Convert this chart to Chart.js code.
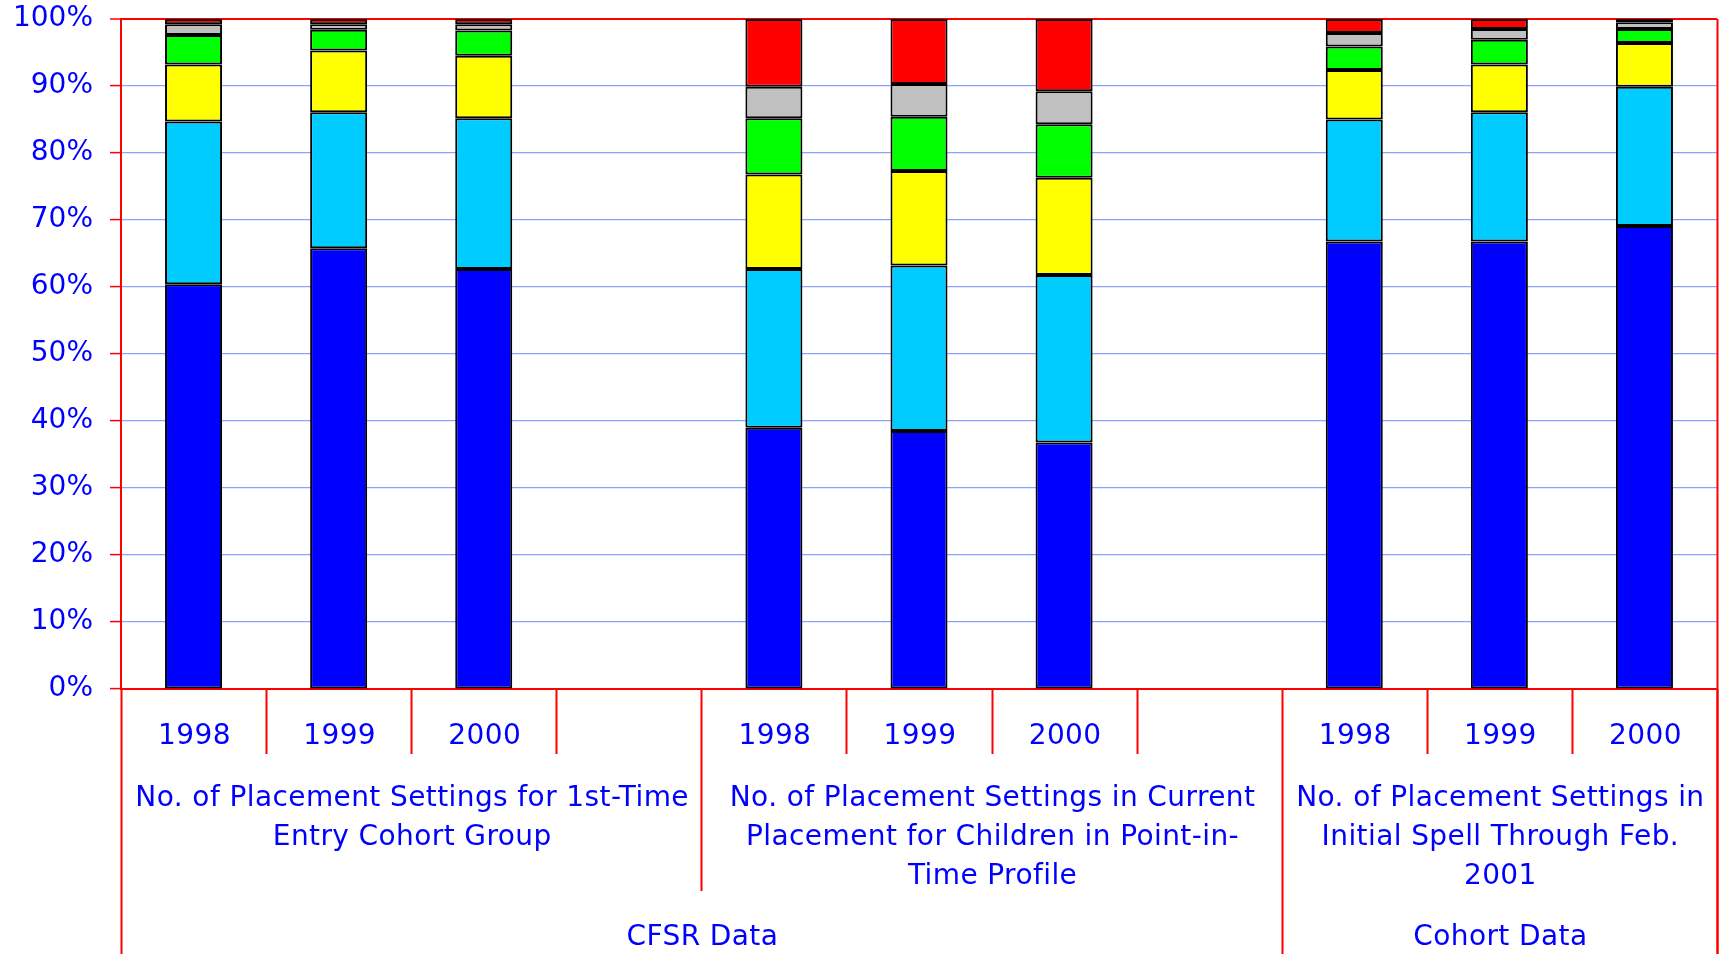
<!DOCTYPE html>
<html>
<head>
<meta charset="utf-8">
<script src="https://cdn.jsdelivr.net/npm/chart.js@4"></script>
<style>
  html, body { margin: 0; padding: 0; background: #fff; }
  canvas { display: block; }
</style>
</head>
<body>
<canvas id="placementChart" width="1725" height="954"></canvas>
<script>
// categories (empty slot separates the groups)
var years = ['1998', '1999', '2000', '', '1998', '1999', '2000', '', '1998', '1999', '2000'];

// group labels under the years
var groupLabels = [
    ['No. of Placement Settings for 1st-Time', 'Entry Cohort Group'],
    ['No. of Placement Settings in Current', 'Placement for Children in Point-in-', 'Time Profile'],
    ['No. of Placement Settings in', 'Initial Spell Through Feb.', '2001']
];
var groupSpans = [[0, 4], [4, 8], [8, 11]];

var sourceLabels = ['CFSR Data', 'Cohort Data'];
var sourceSpans = [[0, 8], [8, 11]];

// number of placement settings (percent of children)
var seriesNames = ['1', '2', '3', '4', '5', '6 or more'];
var onePlacement   = [60.4, 65.8, 62.7, null, 39.0, 38.5, 36.8, null, 66.8, 66.8, 69.1];
var twoPlacements  = [24.3, 20.3, 22.5, null, 23.7, 24.7, 25.0, null, 18.2, 19.3, 20.8];
var threePlacements = [8.5, 9.2, 9.3, null, 14.1, 14.1, 14.5, null, 7.4, 7.1, 6.5];
var fourPlacements = [4.4, 3.1, 3.8, null, 8.4, 8.1, 8.0, null, 3.5, 3.7, 2.1];
var fivePlacements = [1.6, 0.8, 0.9, null, 4.7, 4.9, 4.9, null, 2.0, 1.6, 1.0];
var sixPlusPlacements = [0.8, 0.8, 0.8, null, 10.1, 9.7, 10.8, null, 2.1, 1.5, 0.5];

var yTicks = [0, 10, 20, 30, 40, 50, 60, 70, 80, 90, 100];

var BLUE_TEXT = '#0000FF';
var RED_LINE = '#FF0000';

var seriesData = [onePlacement, twoPlacements, threePlacements, fourPlacements, fivePlacements, sixPlusPlacements];
var seriesColors = ['#0000FF', '#00CCFF', '#FFFF00', '#00FF00', '#C0C0C0', '#FF0000'];

// draws the multi-level category axis below the plot
var categoryLevels = {
    id: 'categoryLevels',
    afterDraw: function (chart) {
        var ctx = chart.ctx;
        var x = chart.scales.x;
        var top = chart.chartArea.bottom;
        var bottom = chart.height;
        var step = x.getPixelForValue(1) - x.getPixelForValue(0);
        var edge = function (i) { return x.getPixelForValue(i) - step / 2; };

        ctx.save();
        ctx.strokeStyle = RED_LINE;
        ctx.lineWidth = 2;

        // separator lines
        for (var i = 0; i <= years.length; i++) {
            var end = top + 65;
            groupSpans.forEach(function (s) { if (s[0] === i || s[1] === i) end = top + 202; });
            sourceSpans.forEach(function (s) { if (s[0] === i || s[1] === i) end = bottom; });
            var px = Math.round(edge(i)) + 0.5;
            ctx.beginPath();
            ctx.moveTo(px, top);
            ctx.lineTo(px, end);
            ctx.stroke();
        }
        // right edge of plot up to the top
        var rx = Math.round(edge(years.length)) + 0.5;
        ctx.beginPath();
        ctx.moveTo(rx, chart.chartArea.top);
        ctx.lineTo(rx, bottom);
        ctx.stroke();

        ctx.fillStyle = BLUE_TEXT;
        ctx.font = '28px "DejaVu Sans"';
        ctx.letterSpacing = '0.4px';
        ctx.textAlign = 'center';
        ctx.textBaseline = 'middle';

        years.forEach(function (y, i) {
            if (y) ctx.fillText(y, x.getPixelForValue(i) + 1, top + 48);
        });

        groupLabels.forEach(function (lines, g) {
            var cx = (edge(groupSpans[g][0]) + edge(groupSpans[g][1])) / 2 + 1;
            lines.forEach(function (line, k) {
                ctx.fillText(line, cx, top + 110 + k * 39);
            });
        });

        sourceLabels.forEach(function (lbl, g) {
            var cx = (edge(sourceSpans[g][0]) + edge(sourceSpans[g][1])) / 2 + 1;
            ctx.fillText(lbl, cx, top + 249);
        });
        ctx.restore();
        ctx.letterSpacing = '0px';
    }
};

var ctx = document.getElementById('placementChart').getContext('2d');

var placementChart = new Chart(ctx, {
    type: 'bar',
    data: {
        labels: years,
        datasets: seriesData.map(function (values, i) {
            return {
                label: seriesNames[i],
                data: values,
                backgroundColor: seriesColors[i],
                borderColor: '#000000',
                borderWidth: 2,
                borderSkipped: false,
                barPercentage: 0.393,
                categoryPercentage: 1
            };
        })
    },
    options: {
        responsive: false,
        animation: false,
        devicePixelRatio: 1,
        layout: { padding: { top: 19, right: 8, bottom: 0, left: 0 } },
        plugins: {
            legend: { display: false },
            tooltip: { enabled: false }
        },
        scales: {
            x: {
                stacked: true,
                grid: { display: false },
                border: { display: true, color: RED_LINE, width: 2 },
                ticks: { display: false },
                afterFit: function (scale) { scale.height = 265; }
            },
            y: {
                stacked: true,
                min: 0,
                max: 100,
                afterBuildTicks: function (scale) {
                    scale.ticks = yTicks.map(function (v) { return { value: v }; });
                },
                grid: {
                    color: function (c) {
                        return (c.tick && (c.tick.value === 100 || c.tick.value === 0)) ? RED_LINE : '#8CA2FF';
                    },
                    lineWidth: function (c) {
                        return (c.tick && c.tick.value === 100) ? 2 : 1.2;
                    },
                    tickColor: RED_LINE,
                    tickLength: 11,
                    tickWidth: 1.5
                },
                border: { display: true, color: RED_LINE, width: 2 },
                ticks: {
                    color: BLUE_TEXT,
                    padding: 17,
                    font: { family: 'DejaVu Sans', size: 28 },
                    callback: function (value) { return value + '%'; }
                },
                afterFit: function (scale) {
                    scale.width = 121;
                    scale.paddingTop = 0;
                    scale.paddingBottom = 0;
                }
            }
        }
    },
    plugins: [categoryLevels]
});
</script>
</body>
</html>
